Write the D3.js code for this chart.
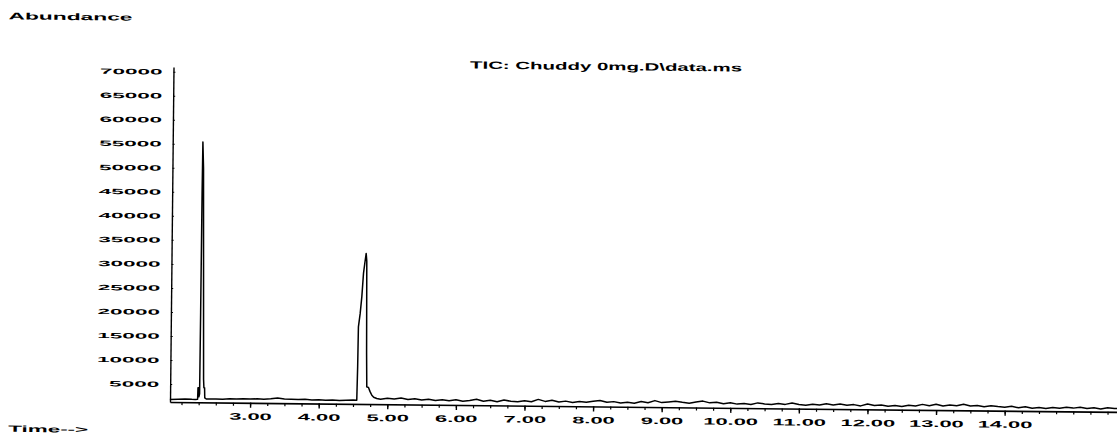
<!DOCTYPE html>
<html><head><meta charset="utf-8">
<script src="https://cdn.jsdelivr.net/npm/d3@7"></script>
<style>html,body{margin:0;padding:0;background:#fff;overflow:hidden}svg{display:block}</style>
</head><body>
<svg id="chart" width="1117" height="436"></svg>
<script>
// ---- data ----
const yTickValues = [5000,10000,15000,20000,25000,30000,35000,40000,45000,50000,55000,60000,65000,70000];
const xTickValues = [3,4,5,6,7,8,9,10,11,12,13,14];
const xTickLabels = ["3.00","4.00","5.00","6.00","7.00","8.00","9.00","10.00","11.00","12.00","13.00","14.00"];
const titleText = "TIC: Chuddy 0mg.D\\data.ms";
const yAxisTitle = "Abundance";
const xAxisTitle = "Time-->";

const baselineBefore = [[1.83,1800],[1.95,1850],[2.05,1900],[2.15,1850],[2.20,1850]];
const peak1 = [[2.234,1900],[2.238,4300],[2.248,4300],[2.252,2400],[2.262,3000],[2.265,20000],[2.268,45000],[2.272,55400],[2.285,50000],[2.300,30000],[2.318,6000],[2.324,4300],[2.334,4300],[2.338,2200],[2.36,1950]];
const baselineBetween = [[2.4,1950],[2.5,2000],[2.6,1950],[2.7,2050],[2.8,2000],[2.9,2100],[3.0,2050],[3.1,2100],[3.2,2050],[3.3,2150],[3.4,2300],[3.5,2150],[3.6,2100],[3.7,2050],[3.8,2100],[3.9,2000],[4.0,2050],[4.1,1950],[4.2,2000],[4.3,1950],[4.4,2000],[4.5,2050]];
const peak2 = [[4.554,2050],[4.562,9000],[4.567,17300],[4.590,20000],[4.612,23540],[4.633,28470],[4.650,30500],[4.669,32590],[4.679,31000],[4.690,12000],[4.698,4830],[4.723,4700],[4.745,3900],[4.773,3100],[4.80,2700],[4.845,2440]];
const baselineAfter = [[4.9,2300],[5.0,2500],[5.1,2350],[5.2,2600],[5.3,2300],[5.4,2450],[5.5,2200],[5.6,2400],[5.7,2150],[5.8,2300],[5.9,2100],[6.0,2350],[6.1,2050],[6.2,2200],[6.3,2500],[6.4,2100],[6.5,2300],[6.6,2000],[6.7,2400],[6.8,2150],[6.9,2050],[7.0,2300],[7.1,2100],[7.2,2600],[7.3,2200],[7.4,2450],[7.5,2100],[7.6,2300],[7.7,2050],[7.8,2250],[7.9,2100],[8.0,2350],[8.1,2500],[8.2,2150],[8.3,2300],[8.4,2050],[8.5,2200],[8.6,2000],[8.7,2400],[8.8,2150],[8.9,2600],[9.0,2200],[9.1,2350],[9.2,2500],[9.3,2300],[9.4,2150],[9.5,2400],[9.6,2600],[9.7,2250],[9.8,2400],[9.9,2100],[10.0,2300],[10.1,2050],[10.2,2200],[10.3,2000],[10.4,2350],[10.5,2150],[10.6,2050],[10.7,2250],[10.8,2100],[10.9,2400],[11.0,2100],[11.1,1950],[11.2,2200],[11.3,2050],[11.4,2300],[11.5,2100],[11.6,2300],[11.7,2050],[11.8,2200],[11.9,1950],[12.0,2350],[12.1,2050],[12.2,2200],[12.3,1950],[12.4,2100],[12.5,1900],[12.6,2200],[12.7,2050],[12.8,2400],[12.9,2150],[13.0,2450],[13.1,2100],[13.2,2350],[13.3,2200],[13.4,2500],[13.5,2150],[13.6,2300],[13.7,2050],[13.8,2250],[13.9,2100],[14.0,2000],[14.1,2200],[14.2,1900],[14.3,2150],[14.4,1850],[14.5,2000],[14.6,1800],[14.7,2050],[14.8,1900],[14.9,2100],[15.0,1950],[15.1,2150],[15.2,1900],[15.3,2050],[15.4,1850],[15.5,2100],[15.6,1950],[15.7,2000]];

// ---- layout ----
const FONT = "'Liberation Sans', Arial, sans-serif";
const svg = d3.select("#chart");
const g = svg.append("g").attr("transform", "rotate(0.6,170,402)");

const x = d3.scaleLinear().domain([1.832, 15.695]).range([170, 1121]);
const y = d3.scaleLinear().domain([1255, 70960]).range([402, 67]);

// trace
const trace = [].concat(baselineBefore, peak1, baselineBetween, peak2, baselineAfter);
g.append("path")
  .datum(trace)
  .attr("fill", "none")
  .attr("stroke", "#000")
  .attr("stroke-width", 1.5)
  .attr("stroke-linejoin", "round")
  .attr("d", d3.line().x(d => x(d[0])).y(d => y(d[1])));

// x axis: minor ticks
const minorTicks = d3.range(2, 15.76, 0.25);
const xMinor = g.append("g").attr("transform", "translate(0,402)")
  .call(d3.axisBottom(x).tickValues(minorTicks).tickSize(3).tickSizeOuter(0).tickFormat(""));
xMinor.select(".domain").attr("stroke-width", 1.6);
xMinor.selectAll(".tick line").attr("stroke-width", 1.2);

// x axis: major ticks + labels
const xMajor = g.append("g").attr("transform", "translate(0,402)")
  .call(d3.axisBottom(x).tickValues(xTickValues).tickSize(5).tickSizeOuter(0)
    .tickFormat((d, i) => xTickLabels[i]));
xMajor.select(".domain").remove();
xMajor.selectAll(".tick line").attr("stroke-width", 1.4);
xMajor.selectAll(".tick text")
  .attr("y", 17).attr("dy", 0)
  .attr("transform", "scale(2.3,1)")
  .style("font-family", FONT).style("font-size", "9.5px").style("font-weight", "bold")
  .attr("fill", "#000");

// y axis
const yAx = g.append("g").attr("transform", "translate(170,0)")
  .call(d3.axisLeft(y).tickValues(yTickValues).tickSize(-2).tickSizeOuter(0).tickFormat(d3.format("d")));
yAx.select(".domain").attr("stroke-width", 1.4);
yAx.selectAll(".tick text")
  .attr("x", -11 / 3)
  .attr("transform", "scale(3,1)")
  .style("font-family", FONT).style("font-size", "7.5px").style("font-weight", "bold")
  .attr("fill", "#000");

// title
g.append("text")
  .attr("x", 466.5).attr("y", 65.5)
  .attr("textLength", 272).attr("lengthAdjust", "spacingAndGlyphs")
  .style("font-family", FONT).style("font-size", "10.5px").style("font-weight", "bold")
  .text(titleText);

// axis titles
g.append("text")
  .attr("x", 4.5).attr("y", 21)
  .attr("textLength", 124).attr("lengthAdjust", "spacingAndGlyphs")
  .style("font-family", FONT).style("font-size", "9.5px").style("font-weight", "bold")
  .text(yAxisTitle);
g.append("text")
  .attr("x", 8.5).attr("y", 433.5)
  .attr("textLength", 80).attr("lengthAdjust", "spacingAndGlyphs")
  .style("font-family", FONT).style("font-size", "9px").style("font-weight", "bold")
  .text(xAxisTitle);
</script>
</body></html>
